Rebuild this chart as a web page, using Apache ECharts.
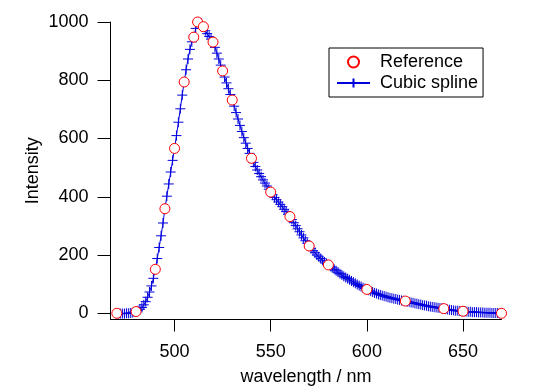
<!DOCTYPE html>
<html>
<head>
<meta charset="utf-8">
<script src="https://cdn.jsdelivr.net/npm/echarts@6/dist/echarts.min.js"></script>
<style>
html,body{margin:0;padding:0;background:#fff;}
#chart{width:548px;height:386px;}
</style>
</head>
<body>
<div id="chart"></div>
<script>
// Reference points (red open circles)
const refWavelength = [470, 480, 490, 495, 500, 505, 510, 512, 515, 520, 525, 530, 540, 550, 560, 570, 580, 600, 620, 640, 650, 670];
const refIntensity  = [0, 6, 151, 359, 566, 794, 948, 1000, 984, 931, 832, 732, 532, 416, 332, 231, 166, 82, 42, 16, 7, 0];

// Cubic spline (blue crosses, 1 nm steps)
const splineWavelength = [
470,471,472,473,474,475,476,477,478,479,
480,481,482,483,484,485,486,487,488,489,
490,491,492,493,494,495,496,497,498,499,
500,501,502,503,504,505,506,507,508,509,
510,511,512,513,514,515,516,517,518,519,
520,521,522,523,524,525,526,527,528,529,
530,531,532,533,534,535,536,537,538,539,
540,541,542,543,544,545,546,547,548,549,
550,551,552,553,554,555,556,557,558,559,
560,561,562,563,564,565,566,567,568,569,
570,571,572,573,574,575,576,577,578,579,
580,581,582,583,584,585,586,587,588,589,
590,591,592,593,594,595,596,597,598,599,
600,601,602,603,604,605,606,607,608,609,
610,611,612,613,614,615,616,617,618,619,
620,621,622,623,624,625,626,627,628,629,
630,631,632,633,634,635,636,637,638,639,
640,641,642,643,644,645,646,647,648,649,
650,651,652,653,654,655,656,657,658,659,
660,661,662,663,664,665,666,667,668,669,
670];
const splineIntensity = [
0,-1,-1,-1,-1,0,0,1,2,4,
6,9,14,20,29,40,55,73,94,120,
151,188,226,266,310,359,402,444,485,525,
566,610,656,702,749,794,836,873,906,932,
948,978,1000,1003,996,984,970,960,950,941,
931,913,893,873,852,832,811,791,771,751,
732,711,689,667,645,624,603,584,566,549,
532,518,504,492,480,469,458,447,437,426,
416,407,398,390,382,374,366,357,349,340,
332,322,311,301,290,280,269,259,249,240,
231,223,215,208,200,194,188,182,176,171,
166,161,156,151,146,141,136,132,127,123,
119,115,111,107,103,99,95,92,88,85,
82,79,76,73,70,68,65,63,61,59,
57,55,53,52,50,49,47,46,44,43,
42,40,39,37,36,34,33,31,30,28,
27,26,24,23,22,21,20,19,18,17,
16,14,13,12,11,10,9,9,8,7,
7,6,6,5,5,4,4,4,3,3,
3,2,2,2,2,1,1,1,1,0,
0];

const xTicks = [500, 550, 600, 650];
const yTicks = [0, 200, 400, 600, 800, 1000];

const FONT = '"Liberation Sans", Arial, Helvetica, sans-serif';
const BLUE = '#0000dd';
const RED = '#ff0000';

const splineData = splineWavelength.map((w, i) => [w, splineIntensity[i]]);
const refData = refWavelength.map((w, i) => [w, refIntensity[i]]);

const chart = echarts.init(document.getElementById('chart'), null, {renderer: 'canvas'});
chart.setOption({
  animation: false,
  backgroundColor: '#ffffff',
  textStyle: {fontFamily: FONT, color: '#000'},
  grid: {left: 110.5, top: 22, right: 46.5, bottom: 66.5, containLabel: false, outerBoundsMode: 'none'},
  legend: {
    data: ['Reference', 'Cubic spline'],
    orient: 'vertical',
    left: 329, top: 48,
    itemWidth: 33, itemHeight: 11, itemGap: 3,
    padding: [5, 5, 5, 7],
    borderColor: '#000', borderWidth: 1,
    selectedMode: false,
    textStyle: {fontSize: 18, fontFamily: FONT, color: '#000', padding: [0, 0, 0, 5]}
  },
  xAxis: {
    type: 'value',
    min: 466.7, max: 670,
    name: 'wavelength / nm',
    nameLocation: 'middle',
    nameGap: 49,
    nameMoveOverlap: false,
    nameTextStyle: {fontSize: 18, fontFamily: FONT, color: '#000'},
    axisLine: {show: true, onZero: false, lineStyle: {color: '#000', width: 1}},
    axisTick: {show: true, inside: false, length: 12, customValues: xTicks, lineStyle: {color: '#000'}},
    axisLabel: {show: true, margin: 24, fontSize: 18, fontFamily: FONT, color: '#000', customValues: xTicks,
      formatter: v => String(v)},
    splitLine: {show: false}
  },
  yAxis: {
    type: 'value',
    min: -21.3, max: 1000,
    name: 'Intensity',
    nameLocation: 'middle',
    nameGap: 68,
    nameRotate: 90,
    nameMoveOverlap: false,
    nameTextStyle: {fontSize: 18, fontFamily: FONT, color: '#000'},
    axisLine: {show: true, onZero: false, lineStyle: {color: '#000', width: 1}},
    axisTick: {show: true, inside: false, length: 13, customValues: yTicks, lineStyle: {color: '#000'}},
    axisLabel: {show: true, margin: 22, fontSize: 18, fontFamily: FONT, color: '#000', customValues: yTicks,
      formatter: v => String(v)},
    splitLine: {show: false}
  },
  series: [
    {
      name: 'Cubic spline',
      type: 'line',
      data: splineData,
      symbol: 'path://M0,5L10,5M5,0L5,10',
      symbolSize: 10,
      showAllSymbol: true,
      lineStyle: {color: BLUE, width: 1},
      itemStyle: {color: BLUE, borderColor: BLUE, borderWidth: 1},
      z: 2
    },
    {
      name: 'Reference',
      type: 'scatter',
      data: refData,
      symbol: 'circle',
      symbolSize: 10,
      itemStyle: {color: '#ffffff', borderColor: RED, borderWidth: 1, opacity: 1},
      z: 3
    }
  ]
});
</script>
</body>
</html>
